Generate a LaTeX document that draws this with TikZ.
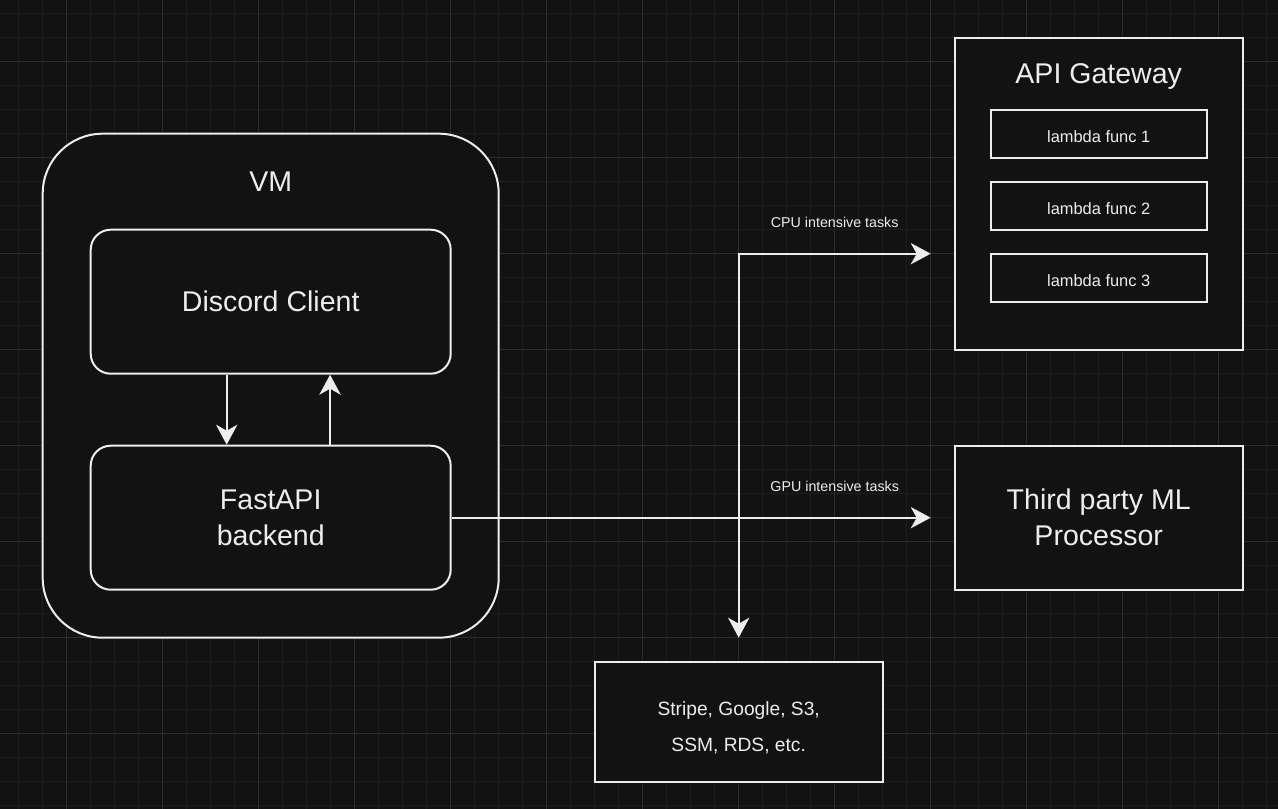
\documentclass[tikz,border=0pt]{standalone}
\usepackage{fontspec}
\setmainfont{Liberation Sans}
\usepackage{tikz}
\usetikzlibrary{arrows.meta}
\definecolor{canvas}{HTML}{121212}
\definecolor{minorgrid}{HTML}{1D1D1D}
\definecolor{majorgrid}{HTML}{2C2C2C}
\definecolor{ink}{HTML}{EDEDED}
\tikzstyle{vmbox} = [draw=ink, fill=canvas, line width=1.5pt,
    rectangle, rounded corners=45pt, minimum width=342pt, minimum height=378pt]
\tikzstyle{roundbox} = [draw=ink, fill=canvas, line width=1.5pt, text=ink,
    rectangle, rounded corners=15pt, minimum width=270pt, minimum height=108pt,
    align=center, font=\fontsize{21.4}{27}\selectfont]
\tikzstyle{plainbox} = [draw=ink, fill=canvas, line width=1.5pt, text=ink,
    rectangle, minimum width=216pt, align=center, font=\fontsize{21.4}{27}\selectfont]
\tikzstyle{lambdabox} = [draw=ink, fill=canvas, line width=1.5pt, text=ink,
    rectangle, minimum width=162pt, minimum height=36pt,
    text height=13.4pt, text depth=0pt, font=\fontsize{12.3}{14}\selectfont]
\tikzstyle{title} = [text=ink, font=\fontsize{21.4}{27}\selectfont]
\tikzstyle{tasklabel} = [text=ink, font=\fontsize{10.7}{13}\selectfont]
\tikzstyle{flow} = [draw=ink, line width=1.5pt,
    -{Stealth[length=15pt, width=16pt, inset=4.5pt]}]

\begin{document}
\begin{tikzpicture}[x=0.75pt, y=-0.75pt]
    % canvas and grid
    \fill[canvas] (0,0) rectangle (1278,809);
    \useasboundingbox (0,0) rectangle (1278,809);
    \begin{scope}
        \clip (0,0) rectangle (1278,809);
        \foreach \i in {0,...,52}
            \draw[minorgrid, line width=0.75pt] (18.7+24*\i,0) -- (18.7+24*\i,809);
        \foreach \j in {0,...,33}
            \draw[minorgrid, line width=0.75pt] (0,13.7+24*\j) -- (1278,13.7+24*\j);
        \foreach \i in {0,...,12}
            \draw[majorgrid, line width=0.75pt] (66.7+96*\i,0) -- (66.7+96*\i,809);
        \foreach \j in {0,...,7}
            \draw[majorgrid, line width=0.75pt] (0,61.7+96*\j) -- (1278,61.7+96*\j);
    \end{scope}

    % VM with its two parts
    \node[vmbox] (vm) at (270.7,385.7) {};
    \node[title] (vmtitle) at (270.7,182) {VM};
    \node[roundbox] (discord) at (270.7,301.7) {Discord Client};
    \node[roundbox] (fastapi) at (270.7,517.7) {FastAPI\\backend};
    \draw[flow] ([xshift=-33pt]discord.south) -- ([xshift=-33pt]fastapi.north);
    \draw[flow] ([xshift=44.5pt]fastapi.north) -- ([xshift=44.5pt]discord.south);

    % API Gateway
    \node[plainbox, minimum height=234pt] (gateway) at (1098.7,193.7) {};
    \node[title] (gwtitle) at (1098.7,76.5) {API Gateway};
    \node[lambdabox] (lambda1) at (1098.7,133.7) {lambda func 1};
    \node[lambdabox] (lambda2) at (1098.7,205.7) {lambda func 2};
    \node[lambdabox] (lambda3) at (1098.7,277.7) {lambda func 3};

    % ML processor and services
    \node[plainbox, minimum height=108pt] (mlproc) at (1098.7,517.7) {Third party ML\\Processor};
    \node[plainbox, minimum height=90pt] (services) at (738.7,721.7) {};
    \node[text=ink, align=center, font=\fontsize{14.4}{26.5}\selectfont] (servicetext)
        at ([yshift=-4.5pt]services.center) {Stripe, Google, S3,\\SSM, RDS, etc.};

    % connectors
    \coordinate (cpuend) at (930.7,253.7);
    \coordinate (gpuend) at (930.7,517.7);
    \coordinate (svcend) at (738.7,637.7);
    \draw[flow] (fastapi.east) -- (gpuend);
    \draw[flow, {Stealth[length=15pt, width=16pt, inset=4.5pt]}-{Stealth[length=15pt, width=16pt, inset=4.5pt]}]
        (cpuend) -| (svcend);
    \node[tasklabel] (cpulabel) at (834.7,222) {CPU intensive tasks};
    \node[tasklabel] (gpulabel) at (834.7,486) {GPU intensive tasks};
\end{tikzpicture}
\end{document}
